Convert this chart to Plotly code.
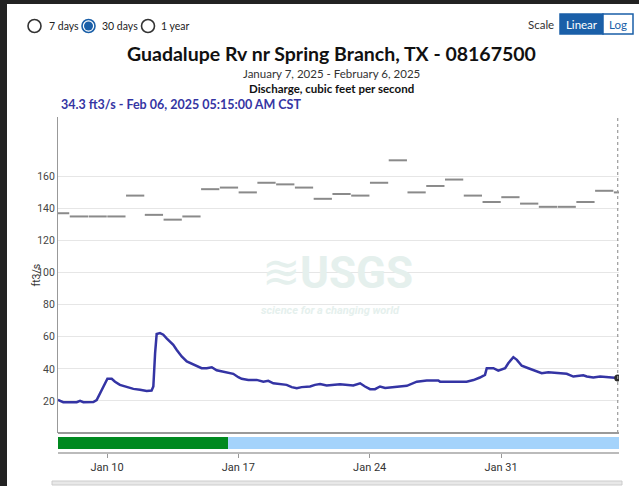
import plotly.graph_objects as go
import pandas as pd

# discharge readings (ft3/s)
flow_times = [
    "2025-01-07 09:15", "2025-01-07 16:00", "2025-01-08 09:15", "2025-01-08 13:30", "2025-01-08 17:45",
    "2025-01-09 06:30", "2025-01-09 10:45", "2025-01-09 15:00", "2025-01-09 19:15", "2025-01-10 00:30",
    "2025-01-10 06:00", "2025-01-10 10:15", "2025-01-10 16:30", "2025-01-11 01:00", "2025-01-11 09:45",
    "2025-01-11 18:15", "2025-01-12 02:45", "2025-01-12 09:00", "2025-01-12 11:15", "2025-01-12 13:30",
    "2025-01-12 15:30", "2025-01-12 19:45", "2025-01-13 00:00", "2025-01-13 04:15", "2025-01-13 08:30",
    "2025-01-13 12:45", "2025-01-13 17:00", "2025-01-13 23:30", "2025-01-14 06:00", "2025-01-14 12:15",
    "2025-01-14 18:45", "2025-01-15 01:00", "2025-01-15 07:30", "2025-01-15 14:00", "2025-01-15 20:15",
    "2025-01-16 04:45", "2025-01-16 11:15", "2025-01-16 17:30", "2025-01-17 00:00", "2025-01-17 04:15",
    "2025-01-17 12:45", "2025-01-17 23:30", "2025-01-18 08:00", "2025-01-18 14:15", "2025-01-18 20:45",
    "2025-01-19 05:15", "2025-01-19 13:45", "2025-01-19 20:15", "2025-01-20 02:45", "2025-01-20 09:00",
    "2025-01-20 19:45", "2025-01-21 02:00", "2025-01-21 08:30", "2025-01-21 17:00", "2025-01-22 10:00",
    "2025-01-23 03:00", "2025-01-23 11:45", "2025-01-23 18:00", "2025-01-24 00:30", "2025-01-24 06:45",
    "2025-01-24 13:15", "2025-01-24 19:45", "2025-01-25 10:30", "2025-01-25 23:30", "2025-01-26 12:15",
    "2025-01-27 01:00", "2025-01-27 15:45", "2025-01-27 18:00", "2025-01-29 04:00", "2025-01-29 12:45",
    "2025-01-29 21:00", "2025-01-30 03:30", "2025-01-30 05:45", "2025-01-30 14:15", "2025-01-30 20:30",
    "2025-01-31 05:15", "2025-01-31 09:15", "2025-01-31 15:45", "2025-01-31 20:15", "2025-02-01 02:30",
    "2025-02-01 11:00", "2025-02-01 19:30", "2025-02-02 04:00", "2025-02-02 12:30", "2025-02-02 23:15",
    "2025-02-03 12:00", "2025-02-03 20:30", "2025-02-04 09:15", "2025-02-04 13:45", "2025-02-04 22:00",
    "2025-02-05 06:45", "2025-02-06 05:15",
]
flow_values = [
    20.6, 19.2, 19.2, 20.0, 19.2,
    19.3, 20.5, 24.8, 29.0, 33.8,
    33.8, 32.0, 30.0, 28.6, 27.5,
    27.0, 26.2, 26.5, 29.0, 49.8,
    61.7, 62.3, 61.3, 59.0, 56.7,
    55.0, 51.9, 47.7, 44.6, 43.1,
    41.5, 40.4, 40.4, 41.0, 39.1,
    38.1, 37.7, 36.9, 34.8, 33.8,
    33.1, 33.1, 32.0, 32.5, 31.0,
    30.4, 30.0, 28.6, 27.9, 28.6,
    29.0, 30.0, 30.5, 29.6, 30.4,
    29.6, 31.0, 29.0, 27.3, 27.3,
    29.0, 28.1, 28.6, 29.4, 32.0,
    32.7, 32.7, 32.0, 32.0, 33.0,
    34.6, 36.2, 40.4, 40.4, 38.9,
    40.4, 43.5, 47.3, 45.6, 41.9,
    40.4, 38.8, 37.3, 37.9, 37.3,
    36.9, 35.2, 36.0, 35.2, 34.6,
    35.2, 34.3,
]

# daily median statistic (gray dashes)
stat_days = pd.date_range("2025-01-07", "2025-02-06", freq="D")
stat_values = [137, 135, 135, 135, 148, 136, 133, 135, 152, 153,
               150, 156, 155, 153, 146, 149, 148, 156, 170, 150,
               154, 158, 148, 144, 147, 143, 141, 141, 144, 151, 150]

# approval status bar
status_names = ["Approved", "Provisional"]
status_start = ["2025-01-07 00:00", "2025-01-16 10:50"]
status_end = ["2025-01-16 10:50", "2025-02-07 00:00"]
status_colors = ["#00891f", "#a4d3fb"]

x_range = ["2025-01-07 09:18", "2025-02-06 06:54"]
y_ticks = [20, 40, 60, 80, 100, 120, 140, 160]
x_ticks = ["2025-01-10", "2025-01-17", "2025-01-24", "2025-01-31"]

W, H = 639, 486
L, R, T, B = 58, 619, 117, 453


def px(x):
    return (x - L) / (R - L)


def py(y):
    return (B - y) / (B - T)


fig = go.Figure()

sx, sy = [], []
for d, v in zip(stat_days, stat_values):
    sx += [d + pd.Timedelta(minutes=20), d + pd.Timedelta(hours=23, minutes=40), None]
    sy += [v, v, None]
fig.add_trace(go.Scatter(x=sx, y=sy, mode="lines", line=dict(color="#8a8a8a", width=2),
                         hoverinfo="skip", showlegend=False))

fig.add_trace(go.Scatter(x=flow_times, y=flow_values, mode="lines",
                         line=dict(color="#3434a4", width=2.5), showlegend=False))
fig.add_trace(go.Scatter(x=[flow_times[-1]], y=[flow_values[-1]], mode="markers",
                         marker=dict(color="#2b2b2b", size=7), showlegend=False))

hdr = "Lato"
narrow = "Liberation Sans Narrow, Arial Narrow, Roboto, Arial"

shapes = []
# white page on a dark screenshot background
shapes.append(dict(type="rect", xref="paper", yref="paper", x0=px(7), x1=px(W + 5), y0=py(H + 5), y1=py(4),
                   fillcolor="white", line_width=0, layer="below"))
for s0, s1, c in zip(status_start, status_end, status_colors):
    shapes.append(dict(type="rect", xref="x", yref="paper", x0=s0, x1=s1,
                       y0=py(449), y1=py(437), fillcolor=c, line_width=0, layer="below"))
# frame lines
shapes.append(dict(type="line", xref="paper", yref="paper", x0=0, x1=1, y0=py(433), y1=py(433),
                   line=dict(color="#9a9a9a", width=2)))
shapes.append(dict(type="line", xref="x", yref="paper", x0=flow_times[-1], x1=flow_times[-1],
                   y0=py(433), y1=1, line=dict(color="#9a9a9a", width=1.2, dash="dot")))
# radio buttons
for cx, sel in [(34.5, False), (88.5, True), (148, False)]:
    shapes.append(dict(type="circle", xref="paper", yref="paper", x0=px(cx - 6.5), x1=px(cx + 6.5),
                       y0=py(26 + 6.5), y1=py(26 - 6.5),
                       line=dict(color="#1a5fa8" if sel else "#333333", width=1.6)))
    if sel:
        shapes.append(dict(type="circle", xref="paper", yref="paper", x0=px(cx - 4.5), x1=px(cx + 4.5),
                           y0=py(26 + 4.5), y1=py(26 - 4.5), fillcolor="#1a5fa8", line_width=0))
# scale buttons
shapes.append(dict(type="rect", xref="paper", yref="paper", x0=px(560), x1=px(603), y0=py(34), y1=py(14),
                   fillcolor="#1a5fa8", line=dict(color="#1a5fa8", width=1.5),
                   label=dict(text="Linear", font=dict(size=11.5, color="white", family=hdr))))
shapes.append(dict(type="rect", xref="paper", yref="paper", x0=px(603), x1=px(633), y0=py(34), y1=py(14),
                   fillcolor="white", line=dict(color="#1a5fa8", width=1.5),
                   label=dict(text="Log", font=dict(size=11.5, color="#1a5fa8", family=hdr))))
# scroll bar at bottom
shapes.append(dict(type="rect", xref="paper", yref="paper", x0=px(52), x1=px(622), y0=py(485), y1=py(481),
                   fillcolor="#e8e8e8", line=dict(color="#cccccc", width=1)))

ann = [
    dict(x=px(47), y=py(26), text="7 days", xanchor="left", font=dict(size=10.5, color="#222", family=hdr)),
    dict(x=px(100), y=py(26), text="30 days", xanchor="left", font=dict(size=10.5, color="#222", family=hdr)),
    dict(x=px(159), y=py(26), text="1 year", xanchor="left", font=dict(size=10.5, color="#222", family=hdr)),
    dict(x=px(556), y=py(24), text="Scale", xanchor="right", font=dict(size=11.5, color="#333", family=hdr)),
    dict(x=px(331), y=py(53), text="<b>Guadalupe Rv nr Spring Branch, TX - 08167500</b>",
         font=dict(size=19.5, color="#111", family=hdr)),
    dict(x=px(331), y=py(73), text="January 7, 2025 - February 6, 2025",
         font=dict(size=11.5, color="#333", family=hdr)),
    dict(x=px(331), y=py(88), text="<b>Discharge, cubic feet per second</b>",
         font=dict(size=11.5, color="#111", family=hdr)),
    dict(x=px(59), y=py(105), text="<b>34.3 ft3/s - Feb 06, 2025 05:15:00 AM CST</b>", xanchor="left",
         font=dict(size=12.5, color="#3535a3", family=hdr)),
    dict(x=px(27), y=py(275), text="ft3/s", textangle=-90, font=dict(size=10.5, color="#333", family=narrow)),
    # watermark
    dict(x=px(281), y=py(272), text="≋", font=dict(size=46, color="#e5f0ed", family="DejaVu Sans")),
    dict(x=px(356), y=py(273), text="<b>USGS</b>", font=dict(size=44, color="#e5f0ed", family=narrow)),
    dict(x=px(330), y=py(310), text="<i><b>science for a changing world</b></i>",
         font=dict(size=11, color="#e5f0ed", family=narrow)),
]
for a in ann:
    a.update(xref="paper", yref="paper", showarrow=False, yanchor=a.get("yanchor", "middle"))

fig.update_layout(
    width=W, height=H,
    margin=dict(l=L, r=W - R, t=T, b=H - B, autoexpand=False),
    paper_bgcolor="#222222", plot_bgcolor="white",
    shapes=shapes, annotations=ann,
    xaxis=dict(range=x_range, type="date", anchor="free", position=0, automargin=False,
               tickvals=x_ticks, tickformat="%b %d", ticks="outside", ticklen=4, tickcolor="#999",
               showgrid=False, showline=True, linecolor="#bbbbbb", linewidth=2, zeroline=False,
               tickfont=dict(size=11, color="#333", family=narrow)),
    yaxis=dict(domain=[py(433), 1], range=[0, 197], tickvals=y_ticks, showgrid=True, automargin=False,
               gridcolor="#e6e6e6", gridwidth=1, showline=True, linecolor="#999", linewidth=1,
               zeroline=False, ticks="", tickfont=dict(size=10.5, color="#444", family=narrow)),
)

fig.write_html("out.html", config={"displayModeBar": False},
               post_script="document.body.style.margin='0';document.body.style.overflow='hidden';")
